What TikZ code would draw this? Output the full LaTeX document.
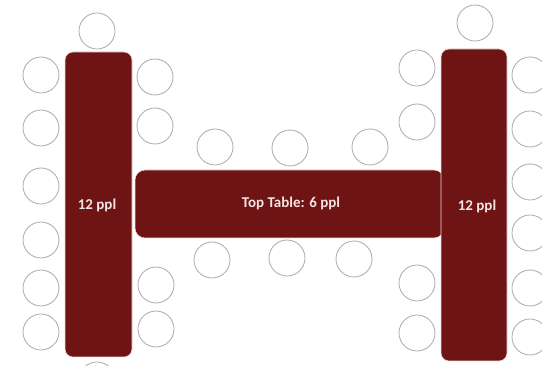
\documentclass[tikz,border=0pt]{standalone}
\usepackage{fontspec}
\setmainfont{Carlito}
\definecolor{tablered}{HTML}{6E1414}
\definecolor{tableedge}{HTML}{F0D8D8}
\definecolor{seatline}{HTML}{B4A6A6}
\definecolor{labeltext}{HTML}{F5E4E4}
\begin{document}
\begin{tikzpicture}[x=1pt,y=-1pt,
  tablebox/.style={fill=tablered,draw=tableedge,line width=0.6pt},
  seat/.style={circle,draw=seatline,fill=white,line width=0.8pt,minimum size=36pt,inner sep=0pt},
  tablelabel/.style={text=labeltext,font=\bfseries\fontsize{15}{17}\selectfont}]
\useasboundingbox (0,0) rectangle (542,366);
% tables
\draw[tablebox,rounded corners=10pt] (135,170) rectangle (444,238);
\draw[tablebox,rounded corners=8pt] (65,52) rectangle (132,357);
\draw[tablebox,rounded corners=8pt] (441,49) rectangle (507,361);
\node[tablelabel] (lt) at (97,205) {12 ppl};
\node[tablelabel] (mt) at (291,203) {Top Table: 6 ppl};
\node[tablelabel] (rt) at (477,206) {12 ppl};
% left table seats
\node[seat] (l0) at (97,31) {};
\node[seat] (lb) at (97,380) {};
\node[seat] (la1) at (41,75) {};
\node[seat] (la2) at (41,128) {};
\node[seat] (la3) at (41,186) {};
\node[seat] (la4) at (41,240) {};
\node[seat] (la5) at (41,288) {};
\node[seat] (la6) at (41,332) {};
\node[seat] (lc1) at (155,77) {};
\node[seat] (lc2) at (155,126) {};
\node[seat] (lc3) at (156,285) {};
\node[seat] (lc4) at (156,329) {};
% top table seats
\node[seat] (m1) at (215,147) {};
\node[seat] (m2) at (290,148) {};
\node[seat] (m3) at (370,147) {};
\node[seat] (m4) at (212,260) {};
\node[seat] (m5) at (287,258) {};
\node[seat] (m6) at (354,259) {};
% right table seats
\node[seat] (r0) at (475,23) {};
\node[seat] (ra1) at (417,68) {};
\node[seat] (ra2) at (417,122) {};
\node[seat] (ra3) at (417,283) {};
\node[seat] (ra4) at (417,333) {};
\node[seat] (rc1) at (530,75) {};
\node[seat] (rc2) at (530,129) {};
\node[seat] (rc3) at (530,182) {};
\node[seat] (rc4) at (530,233) {};
\node[seat] (rc5) at (530,288) {};
\node[seat] (rc6) at (530,337) {};
\end{tikzpicture}
\end{document}
